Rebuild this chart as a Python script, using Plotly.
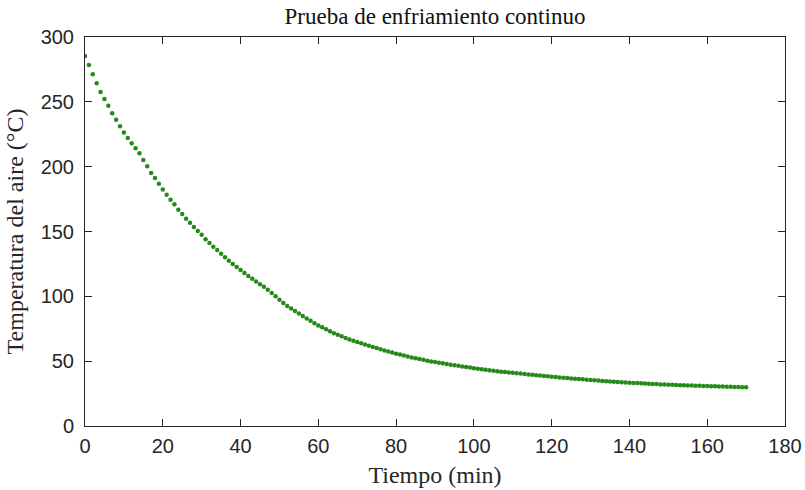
import plotly.graph_objects as go

# Continuous cooling test: air temperature sampled once per minute
tiempo_min = list(range(0, 171))
temperatura_c = [
    285.3, 278.4, 271.3, 264.4, 257.5, 252.2, 247.0, 241.2, 236.2, 231.1,
    226.3, 222.1, 218.0, 214.2, 210.3, 205.2, 200.3, 195.2, 191.3, 186.9,
    182.4, 178.4, 174.4, 171.0, 166.8, 163.5, 159.9, 156.8, 153.5, 150.4,
    147.5, 144.0, 141.1, 138.3, 135.7, 132.9, 130.1, 127.5, 124.9, 122.6,
    120.3, 118.0, 115.7, 113.6, 111.4, 109.3, 107.4, 105.1, 102.6, 100.0,
    97.4, 94.9, 92.6, 90.7, 88.7, 86.7, 84.8, 83.0, 81.2, 79.3,
    77.6, 76.1, 74.6, 73.1, 71.6, 70.4, 69.2, 67.9, 66.8, 65.8,
    64.8, 63.8, 62.8, 61.9, 60.9, 60.1, 59.2, 58.2, 57.4, 56.6,
    55.8, 55.1, 54.3, 53.6, 52.9, 52.3, 51.6, 51.0, 50.4, 49.8,
    49.3, 48.8, 48.3, 47.8, 47.3, 46.8, 46.4, 45.9, 45.5, 45.1,
    44.6, 44.2, 43.8, 43.4, 43.0, 42.6, 42.3, 41.9, 41.6, 41.3,
    41.0, 40.7, 40.4, 40.1, 39.8, 39.5, 39.2, 38.9, 38.6, 38.3,
    38.0, 37.8, 37.5, 37.2, 37.0, 36.7, 36.5, 36.2, 36.0, 35.7,
    35.5, 35.3, 35.0, 34.8, 34.6, 34.4, 34.2, 34.0, 33.8, 33.6,
    33.4, 33.2, 33.1, 32.9, 32.7, 32.6, 32.4, 32.3, 32.1, 32.0,
    31.9, 31.8, 31.7, 31.5, 31.4, 31.3, 31.2, 31.1, 31.0, 30.9,
    30.8, 30.7, 30.6, 30.5, 30.4, 30.3, 30.2, 30.1, 30.0, 29.9,
    29.8,
]

x_ticks = [0, 20, 40, 60, 80, 100, 120, 140, 160, 180]
y_ticks = [0, 50, 100, 150, 200, 250, 300]

serif = "Liberation Serif"
sans = "Liberation Sans"
axis_color = "#262626"

fig = go.Figure(
    go.Scatter(
        x=tiempo_min,
        y=temperatura_c,
        mode="markers",
        marker=dict(size=4.5, color="#268a1a", line=dict(width=0)),
        showlegend=False,
    )
)

axis_common = dict(
    showline=True,
    linecolor=axis_color,
    linewidth=1,
    mirror="ticks",
    ticks="inside",
    ticklen=7,
    tickwidth=1,
    tickcolor=axis_color,
    showgrid=False,
    zeroline=False,
    automargin=False,
    tickfont=dict(family=sans, size=20, color=axis_color),
)

fig.update_xaxes(
    range=[0, 180],
    tickvals=x_ticks,
    ticktext=[str(v) for v in x_ticks],
    ticklabelstandoff=2,
    title=dict(text="Tiempo (min)", font=dict(family=serif, size=24, color=axis_color), standoff=10),
    **axis_common,
)
fig.update_yaxes(
    range=[0, 300],
    tickvals=y_ticks,
    ticktext=[str(v) for v in y_ticks],
    ticklabelstandoff=6,
    title=dict(text="Temperatura del aire (°C)", font=dict(family=serif, size=24, color=axis_color), standoff=10),
    **axis_common,
)

fig.update_layout(
    width=805,
    height=490,
    margin=dict(l=85, r=20, t=37, b=64),
    paper_bgcolor="white",
    plot_bgcolor="white",
    title=dict(
        text="Prueba de enfriamiento continuo",
        font=dict(family=serif, size=23, color="#111111"),
        x=(85 + 785) / 2 / 805,
        xanchor="center",
        y=1 - 16 / 490,
        yanchor="middle",
        yref="container",
    ),
)

fig.write_html("out.html")
